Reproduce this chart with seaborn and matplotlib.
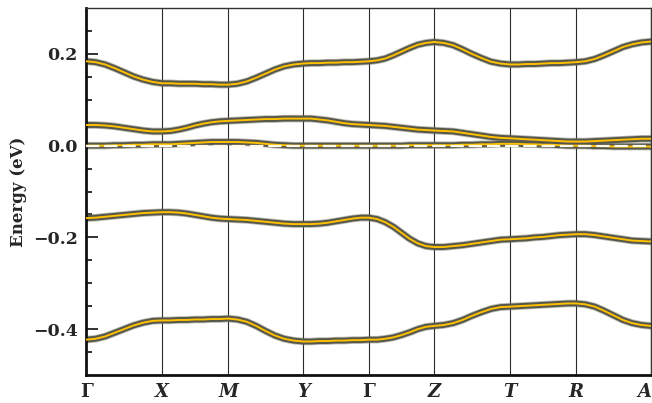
import numpy as np
import pandas as pd
import matplotlib
matplotlib.use("Agg")
import matplotlib.pyplot as plt
import seaborn as sns

# ---------------------------------
# Band structure data
# ---------------------------------

k_labels = ["Γ", "X", "M", "Y", "Γ", "Z", "T", "R", "A"]
k_ticks = [0, 76, 142, 217, 283, 348, 424, 490, 565]

k_path = [0, 9.5, 19, 28.5, 38, 47.5, 57, 66.5, 76,
          84.25, 92.5, 100.75, 109, 117.25, 125.5, 133.75, 142,
          151.4, 160.75, 170.1, 179.5, 188.9, 198.25, 207.6, 217,
          225.25, 233.5, 241.75, 250, 258.25, 266.5, 274.75, 283,
          291.1, 299.25, 307.4, 315.5, 323.6, 331.75, 339.9, 348,
          357.5, 367, 376.5, 386, 395.5, 405, 414.5, 424,
          432.25, 440.5, 448.75, 457, 465.25, 473.5, 481.75, 490,
          499.4, 508.75, 518.1, 527.5, 536.9, 546.25, 555.6, 565]

band_top = [0.184, 0.182, 0.177, 0.169, 0.160, 0.151, 0.144, 0.139, 0.136,
            0.136, 0.135, 0.135, 0.135, 0.134, 0.134, 0.133, 0.133,
            0.135, 0.140, 0.148, 0.157, 0.166, 0.173, 0.177, 0.179,
            0.180, 0.180, 0.181, 0.181, 0.182, 0.182, 0.183, 0.184,
            0.186, 0.190, 0.197, 0.205, 0.213, 0.220, 0.224, 0.226,
            0.224, 0.219, 0.210, 0.200, 0.191, 0.183, 0.179, 0.177,
            0.177, 0.178, 0.178, 0.179, 0.180, 0.180, 0.181, 0.182,
            0.184, 0.189, 0.197, 0.206, 0.215, 0.221, 0.225, 0.227]

band_second = [0.045, 0.045, 0.044, 0.042, 0.039, 0.036, 0.033, 0.031, 0.031,
               0.032, 0.035, 0.039, 0.044, 0.048, 0.051, 0.053, 0.054,
               0.055, 0.056, 0.057, 0.058, 0.058, 0.059, 0.059, 0.059,
               0.059, 0.057, 0.055, 0.052, 0.049, 0.047, 0.046, 0.045,
               0.044, 0.043, 0.041, 0.039, 0.037, 0.035, 0.034, 0.033,
               0.032, 0.031, 0.028, 0.025, 0.022, 0.019, 0.017, 0.016,
               0.015, 0.014, 0.013, 0.012, 0.011, 0.010, 0.009, 0.009,
               0.009, 0.010, 0.011, 0.012, 0.013, 0.014, 0.015, 0.015]

band_zero = [0.000, 0.000, 0.000, 0.001, 0.001, 0.002, 0.002, 0.003, 0.003,
             0.003, 0.004, 0.005, 0.006, 0.007, 0.008, 0.008, 0.008,
             0.008, 0.007, 0.006, 0.004, 0.002, 0.001, 0.000, 0.000,
             0.000, 0.000, 0.000, 0.000, 0.000, 0.000, 0.000, 0.000,
             0.000, 0.000, 0.000, 0.000, 0.001, 0.001, 0.001, 0.001,
             0.001, 0.001, 0.002, 0.002, 0.003, 0.003, 0.004, 0.004,
             0.004, 0.003, 0.003, 0.002, 0.002, 0.001, 0.000, 0.000,
             0.000, -0.001, -0.001, -0.002, -0.002, -0.002, -0.002, -0.002]

band_low = [-0.158, -0.157, -0.155, -0.153, -0.151, -0.149, -0.147, -0.146, -0.145,
            -0.145, -0.146, -0.148, -0.151, -0.154, -0.157, -0.159, -0.160,
            -0.161, -0.162, -0.164, -0.166, -0.168, -0.170, -0.171, -0.171,
            -0.171, -0.170, -0.168, -0.165, -0.162, -0.159, -0.157, -0.157,
            -0.160, -0.167, -0.177, -0.190, -0.203, -0.213, -0.219, -0.221,
            -0.221, -0.219, -0.217, -0.214, -0.211, -0.208, -0.205, -0.204,
            -0.203, -0.202, -0.200, -0.199, -0.197, -0.195, -0.194, -0.193,
            -0.193, -0.195, -0.198, -0.201, -0.204, -0.207, -0.208, -0.209]

band_bottom = [-0.423, -0.421, -0.416, -0.408, -0.400, -0.392, -0.386, -0.382, -0.381,
               -0.381, -0.380, -0.380, -0.379, -0.379, -0.378, -0.378, -0.377,
               -0.379, -0.384, -0.393, -0.404, -0.414, -0.421, -0.425, -0.427,
               -0.427, -0.426, -0.426, -0.425, -0.425, -0.424, -0.424, -0.423,
               -0.423, -0.421, -0.418, -0.413, -0.407, -0.400, -0.395, -0.393,
               -0.391, -0.387, -0.380, -0.371, -0.363, -0.356, -0.352, -0.351,
               -0.350, -0.349, -0.348, -0.347, -0.346, -0.345, -0.344, -0.344,
               -0.346, -0.351, -0.360, -0.370, -0.380, -0.387, -0.391, -0.393]

bands = [band_top, band_second, band_zero, band_low, band_bottom]

# ---------------------------------
# Plot
# ---------------------------------

sns.set_style("ticks")
plt.rcParams["font.family"] = ["DejaVu Serif"]

fig = plt.figure(figsize=(6.52, 4.03), dpi=100)
ax = fig.add_axes([0.132, 0.0695, 0.8665, 0.9105])

for x in k_ticks:
    ax.axvline(x, color="#2b2b2b", linewidth=0.8, zorder=1)

for b in bands:
    # soft halo + dark olive band + thin gold core
    sns.lineplot(x=k_path, y=b, ax=ax, color="#6d6e60", linewidth=5.4,
                 alpha=0.5, solid_capstyle="round", solid_joinstyle="round",
                 zorder=2)
    sns.lineplot(x=k_path, y=b, ax=ax, color="#56574a", linewidth=4.2,
                 solid_capstyle="round", solid_joinstyle="round", zorder=2)
    sns.lineplot(x=k_path, y=b, ax=ax, color="#ffc000", linewidth=1.4,
                 solid_joinstyle="round", zorder=3)

ax.axhline(0, color="#fffbe8", linewidth=1.6, dashes=(6, 2.2), zorder=4)

ax.set_xlim(0, 565)
ax.set_ylim(-0.5, 0.3)

ax.set_xticks(k_ticks)
ax.set_xticklabels(k_labels)
xlabs = ax.get_xticklabels()
for lab in xlabs:
    lab.set_fontweight("bold")
    lab.set_fontsize(13)
    if lab.get_text() != "Γ":
        lab.set_fontstyle("italic")
xlabs[-1].set_horizontalalignment("right")

ax.set_yticks([-0.4, -0.2, 0.0, 0.2])
ax.set_yticklabels(["\u22120.4", "\u22120.2", "0.0", "0.2"],
                   fontweight="bold", fontsize=12.5)
ax.set_yticks(np.arange(-0.45, 0.3, 0.05), minor=True)

ax.tick_params(axis="x", length=0, pad=6)
ax.tick_params(axis="y", which="major", direction="in", length=8.5,
               width=1.3, pad=6, color="#222222")
ax.tick_params(axis="y", which="minor", direction="in", length=4.3,
               width=1.3, color="#222222")

ax.set_ylabel("Energy (eV)", fontsize=12, fontweight="bold", labelpad=4)
ax.set_xlabel("")

for side in ["left", "bottom"]:
    ax.spines[side].set_linewidth(2)
    ax.spines[side].set_color("#111111")
for side in ["top", "right"]:
    ax.spines[side].set_linewidth(1)
    ax.spines[side].set_color("#333333")

fig.savefig("out.png", dpi=100)
